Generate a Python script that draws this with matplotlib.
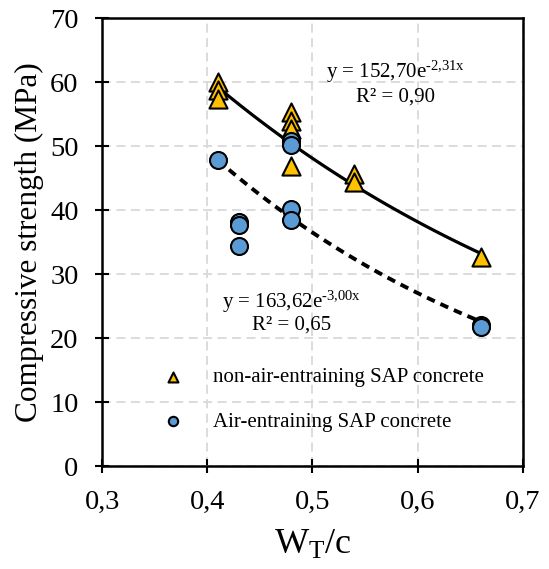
import numpy as np
import matplotlib
matplotlib.use("Agg")
import matplotlib.pyplot as plt

plt.rcParams['font.family'] = ['Liberation Serif', 'DejaVu Serif']
plt.rcParams['mathtext.fontset'] = 'custom'
plt.rcParams['mathtext.rm'] = 'Liberation Serif'
plt.rcParams['mathtext.it'] = 'Liberation Serif:italic'

# Water/cement ratio and compressive strength (MPa)
non_air_wc = [0.41, 0.41, 0.41, 0.48, 0.48, 0.48, 0.48, 0.54, 0.54, 0.66]
non_air_fc = [60.0, 58.8, 57.4, 55.3, 54.0, 52.7, 46.9, 45.7, 44.4, 32.7]

air_wc = [0.41, 0.43, 0.43, 0.43, 0.48, 0.48, 0.48, 0.48, 0.66, 0.66]
air_fc = [47.9, 38.2, 37.6, 34.4, 50.8, 50.2, 40.2, 38.4, 22.1, 21.7]

# exponential trend fits y = a*exp(b*x)
fit_non_air = (152.70, -2.31)
fit_air = (163.62, -3.00)

xticks = [0.3, 0.4, 0.5, 0.6, 0.7]
xticklabels = ['0,3', '0,4', '0,5', '0,6', '0,7']
yticks = [0, 10, 20, 30, 40, 50, 60, 70]

fig = plt.figure(figsize=(5.49, 5.69), dpi=100)
ax = fig.add_axes([0.186, 0.181, 0.766, 0.787])

ax.grid(True, color='#d9d9d9', linestyle=(0, (5, 3)), linewidth=1.3)
ax.set_axisbelow(True)

xs = np.linspace(min(non_air_wc), max(non_air_wc), 100)
ax.plot(xs, fit_non_air[0] * np.exp(fit_non_air[1] * xs), color='black', lw=2.3, zorder=2)
ax.plot(xs, fit_air[0] * np.exp(fit_air[1] * xs), color='black', lw=2.8,
        linestyle=(0, (2.2, 1.6)), zorder=2)

ax.scatter(non_air_wc, non_air_fc, marker='^', s=170, color='#ffc000',
           edgecolor='black', linewidth=1.5, zorder=3,
           label='non-air-entraining SAP concrete')
ax.scatter(air_wc, air_fc, marker='o', s=150, color='#5b9bd5',
           edgecolor='black', linewidth=1.5, zorder=3,
           label='Air-entraining SAP concrete')

ax.text(0.5795, 61.6, 'y = 152,70e$^{\\text{-2,31x}}$', fontsize=15, ha='center', va='center')
ax.text(0.5795, 57.7, 'R² = 0,90', fontsize=15, ha='center', va='center')
ax.text(0.4806, 25.6, 'y = 163,62e$^{\\text{-3,00x}}$', fontsize=15, ha='center', va='center')
ax.text(0.4806, 22.0, 'R² = 0,65', fontsize=15, ha='center', va='center')

ax.legend(loc='lower left', bbox_to_anchor=(0.075, 0.035), frameon=False,
          fontsize=15, markerscale=0.55, handletextpad=0.9, labelspacing=1.2)

ax.set_xlim(0.3, 0.7)
ax.set_ylim(0, 70)
ax.set_xticks(xticks)
ax.set_xticklabels(xticklabels)
ax.set_yticks(yticks)
ax.tick_params(direction='inout', length=10, width=1.5, labelsize=20.5)
ax.tick_params(axis='y', pad=12)
ax.tick_params(axis='x', pad=12)

for sp in ax.spines.values():
    sp.set_linewidth(1.8)

ax.set_xlabel('W$_{\\mathrm{T}}$/c', fontsize=26, labelpad=10)
ax.set_ylabel('Compressive strength (MPa)', fontsize=22.5, labelpad=4)

fig.savefig('out.png', dpi=100)
